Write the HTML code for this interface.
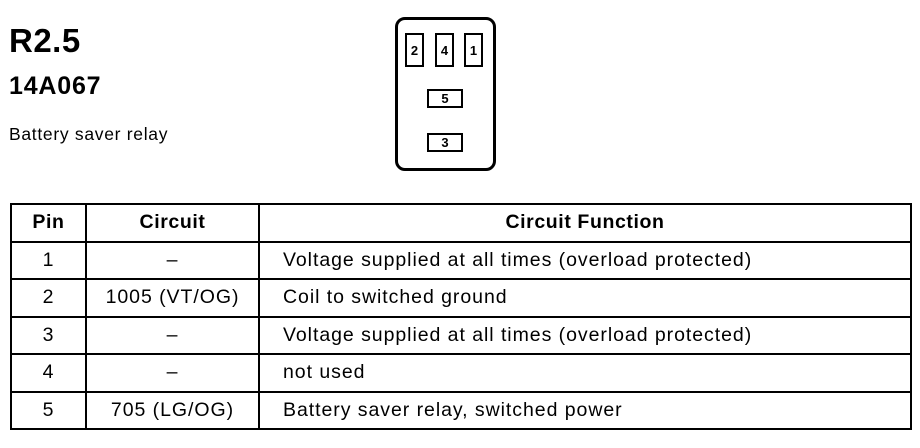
<!DOCTYPE html>
<html><head><style>
body{margin:0;width:920px;height:448px;background:#fff;position:relative;font-family:"Liberation Sans",Arial,sans-serif;color:#000;overflow:hidden}
.t{position:absolute;white-space:nowrap}
.b{position:absolute;border:2px solid #000;box-sizing:border-box;font-weight:bold;font-size:13px;display:flex;align-items:center;justify-content:center}
table{position:absolute;left:10px;top:203px;border-collapse:collapse;width:902px}
td,th{border:2px solid #000;height:35.5px;padding:0;font-size:19.5px;letter-spacing:0.95px}
th{font-weight:bold;font-size:19.5px;letter-spacing:0.6px}
td{text-align:center}
td.f{text-align:left;padding-left:23px}
</style></head><body>
<div class="t" style="left:9px;top:22px;font-size:33px;font-weight:bold;letter-spacing:0.5px">R2.5</div>
<div class="t" style="left:9px;top:72px;font-size:25px;font-weight:bold;letter-spacing:0.8px">14A067</div>
<div class="t" style="left:9px;top:124px;font-size:17.5px;letter-spacing:0.7px">Battery saver relay</div>
<div style="position:absolute;left:395px;top:17px;width:101px;height:154px;border:3px solid #000;border-radius:10px;box-sizing:border-box"></div>
<div class="b" style="left:405px;top:33px;width:19px;height:34px">2</div>
<div class="b" style="left:435px;top:33px;width:19px;height:34px">4</div>
<div class="b" style="left:464px;top:33px;width:19px;height:34px">1</div>
<div class="b" style="left:427px;top:89px;width:36px;height:19px">5</div>
<div class="b" style="left:427px;top:133px;width:36px;height:19px">3</div>
<table>
<tr><th style="width:73px">Pin</th><th style="width:171px">Circuit</th><th>Circuit Function</th></tr>
<tr><td>1</td><td>–</td><td class="f">Voltage supplied at all times (overload protected)</td></tr>
<tr><td>2</td><td>1005 (VT/OG)</td><td class="f">Coil to switched ground</td></tr>
<tr><td>3</td><td>–</td><td class="f">Voltage supplied at all times (overload protected)</td></tr>
<tr><td>4</td><td>–</td><td class="f">not used</td></tr>
<tr><td>5</td><td>705 (LG/OG)</td><td class="f">Battery saver relay, switched power</td></tr>
</table>
</body></html>
